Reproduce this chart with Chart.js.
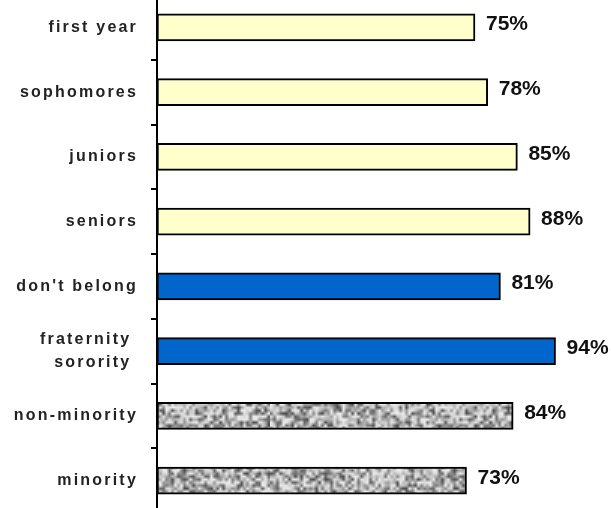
<!DOCTYPE html>
<html>
<head>
<meta charset="utf-8">
<script src="https://cdn.jsdelivr.net/npm/chart.js@4.4.1/dist/chart.umd.min.js"></script>
<style>
  html, body { margin: 0; padding: 0; background: #fff; overflow: hidden; }
  #wrap { position: relative; width: 611px; height: 508px; overflow: hidden; }
  #rates { position: absolute; left: 0; top: -5px; }
</style>
</head>
<body>
<div id="wrap"><canvas id="rates" width="611" height="518"></canvas></div>
<script>
const categories = ['first year', 'sophomores', 'juniors', 'seniors', "don't belong", ['fraternity ', 'sorority '], 'non-minority', 'minority'];
const values = [75, 78, 85, 88, 81, 94, 84, 73];
const groups = ['class', 'class', 'class', 'class', 'greek', 'greek', 'ethnic', 'ethnic'];
const valueRange = [0, 100];

// grey speckle used for the ethnicity bars
function speckle() {
  const n = 90;
  const small = document.createElement('canvas');
  small.width = small.height = n;
  const sctx = small.getContext('2d');
  const img = sctx.createImageData(n, n);
  let seed = 987654321;
  for (let i = 0; i < n * n; i++) {
    seed = (seed * 1103515245 + 12345) & 0x7fffffff;
    const r = (seed % 1000) / 1000;
    const g = Math.round(236 - Math.pow(r, 1.6) * 165);
    img.data[i * 4] = g;
    img.data[i * 4 + 1] = g;
    img.data[i * 4 + 2] = g;
    img.data[i * 4 + 3] = 255;
  }
  sctx.putImageData(img, 0, 0);
  const big = document.createElement('canvas');
  big.width = big.height = n * 3;
  const bctx = big.getContext('2d');
  bctx.imageSmoothingEnabled = true;
  bctx.drawImage(small, 0, 0, n * 3, n * 3);
  return bctx.createPattern(big, 'repeat');
}

const ctx = document.getElementById('rates').getContext('2d');
const fills = { class: '#ffffcc', greek: '#0066cc', ethnic: speckle() };

const spacing = {
  id: 'spacing',
  beforeDraw(chart) { chart.ctx.letterSpacing = '2.2px'; }
};

const valueLabels = {
  id: 'valueLabels',
  afterDatasetsDraw(chart) {
    const c = chart.ctx;
    c.save();
    c.letterSpacing = '0px';
    c.font = "bold 21px 'Liberation Sans', Arial, sans-serif";
    c.fillStyle = '#111';
    c.textAlign = 'left';
    c.textBaseline = 'alphabetic';
    chart.getDatasetMeta(0).data.forEach((bar, i) => {
      c.fillText(values[i] + '%', bar.x + 11, bar.y + 3);
    });
    c.restore();
  }
};

const chart = new Chart(ctx, {
  type: 'bar',
  data: {
    labels: categories,
    datasets: [{
      data: values,
      backgroundColor: groups.map(g => fills[g]),
      borderColor: '#000',
      borderWidth: 2,
      borderSkipped: false,
      barThickness: 27
    }]
  },
  options: {
    indexAxis: 'y',
    responsive: false,
    animation: false,
    layout: { padding: { left: 0, right: 30, top: 0, bottom: 0 } },
    plugins: {
      legend: { display: false },
      tooltip: { enabled: false }
    },
    scales: {
      x: { display: false, min: valueRange[0], max: valueRange[1] },
      y: {
        afterFit: (scale) => {
          scale.width = 157;
          scale.paddingTop = 0;
          scale.paddingBottom = 0;
        },
        grid: { drawOnChartArea: false, drawTicks: true, tickLength: 6, color: '#000', lineWidth: 2 },
        border: { display: true, color: '#000', width: 2 },
        ticks: {
          color: '#222',
          padding: 13,
          font: { family: "'Liberation Sans', Arial, sans-serif", size: 16, weight: 'bold', lineHeight: 1.4 }
        }
      }
    }
  },
  plugins: [spacing, valueLabels]
});
</script>
</body>
</html>
